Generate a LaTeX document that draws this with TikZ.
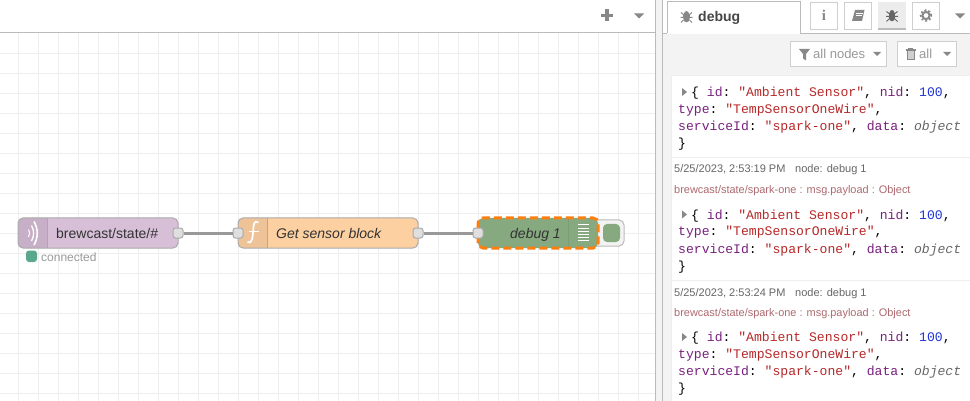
\documentclass[tikz,border=0pt]{standalone}
\usepackage{fontspec}
\setmainfont{Liberation Sans}
\setmonofont{Liberation Mono}
\newfontfamily\iconserif{Liberation Serif}
\usetikzlibrary{calc}

\definecolor{gridline}{HTML}{EEEEEE}
\definecolor{panelgray}{HTML}{F3F3F3}
\definecolor{borderline}{HTML}{BBBBBB}
\definecolor{nodeline}{HTML}{AAAAAA}
\definecolor{wiregray}{HTML}{999999}
\definecolor{mqttfill}{HTML}{D8BFD8}
\definecolor{mqttdark}{HTML}{C7B0C7}
\definecolor{funcfill}{HTML}{FDD0A2}
\definecolor{funcdark}{HTML}{EFC398}
\definecolor{debugfill}{HTML}{87A980}
\definecolor{debugdark}{HTML}{7D9D77}
\definecolor{selorange}{HTML}{FF7F0E}
\definecolor{okgreen}{HTML}{5AA88C}
\definecolor{textdark}{HTML}{333333}
\definecolor{textgray}{HTML}{999999}
\definecolor{metagray}{HTML}{666666}
\definecolor{topicred}{HTML}{AD6A6F}
\definecolor{keypurple}{HTML}{79207F}
\definecolor{strred}{HTML}{B72828}
\definecolor{numblue}{HTML}{2033D6}
\definecolor{icongray}{HTML}{888888}

\tikzset{
	flowbox/.style = {draw = nodeline, line width = 1pt, rounded corners = 5pt},
	port/.style = {draw = nodeline, fill = gray!25, line width = 1pt, rounded corners = 2.5pt, minimum size = 10pt, inner sep = 0pt},
	wire/.style = {draw = wiregray, line width = 3pt},
	tabbtn/.style = {draw = borderline!70, fill = white, line width = 1pt},
	nodetext/.style = {font = \fontsize{14}{16}\selectfont, text = textdark, anchor = base west, inner sep = 0pt},
	uitext/.style = {font = \fontsize{13}{15}\selectfont, text = textgray, anchor = base west, inner sep = 0pt},
	metatext/.style = {font = \fontsize{11}{13}\selectfont, text = metagray, anchor = base west, inner sep = 0pt},
	topictext/.style = {font = \fontsize{10.95}{13}\selectfont, text = topicred, anchor = base west, inner sep = 0pt},
	msgtext/.style = {font = \ttfamily\fontsize{13.1}{17}\selectfont, anchor = base west, inner sep = 0pt},
	caret/.style = {fill = icongray, draw = none}
}

\newcommand{\msgblock}[1]{%
	\fill [icongray] (682,#1-4) -- (687,#1) -- (682,#1+4) -- cycle;
	\node [msgtext] (open#1) at (691,#1+4.5) {\{ \textcolor{keypurple}{id}: \textcolor{strred}{"Ambient Sensor"}, \textcolor{keypurple}{nid}: \textcolor{numblue}{100},};
	\node [msgtext] (type#1) at (678,#1+21.5) {\textcolor{keypurple}{type}: \textcolor{strred}{"TempSensorOneWire"},};
	\node [msgtext] (serv#1) at (678,#1+38.5) {\textcolor{keypurple}{serviceId}: \textcolor{strred}{"spark-one"}, \textcolor{keypurple}{data}: \textcolor{metagray}{\itshape object}};
	\node [msgtext] (close#1) at (678,#1+55.5) {\}};
}

\newcommand{\bugicon}[3]{%
	\fill [#3] (#1-3.2,#2-2) rectangle (#1+3.2,#2+2);
	\fill [#3] (#1,#2+2) ellipse (3.2pt and 3.8pt);
	\fill [#3] (#1,#2-3) circle (2.4pt);
	\draw [#3, line width = 1pt] (#1-3,#2-2) -- (#1-5.5,#2-4) (#1+3,#2-2) -- (#1+5.5,#2-4) (#1-3,#2+1) -- (#1-6,#2+1) (#1+3,#2+1) -- (#1+6,#2+1) (#1-3,#2+3.5) -- (#1-5.5,#2+6) (#1+3,#2+3.5) -- (#1+5.5,#2+6);
}

\begin{document}
\begin{tikzpicture}[x = 1pt, y = -1pt]
	\useasboundingbox (0,0) rectangle (970,401);
	\fill [white] (0,0) rectangle (970,401);

	% workspace grid
	\foreach \x in {18,38,...,638}
		\draw [gridline] (\x,33) to (\x,401);
	\foreach \y in {53,73,...,393}
		\draw [gridline] (0,\y) to (655,\y);
	\draw [borderline, line width = 1pt] (0,33) to (655,33);

	\fill [icongray] (605,9.5) rectangle (608.5,21.5);
	\fill [icongray] (600.8,13.8) rectangle (612.8,17.2);
	\fill [caret] (634,13.5) -- (644,13.5) -- (639,18.5) -- cycle;

	% mqtt in
	\fill [mqttfill, rounded corners = 5pt] (18,218) rectangle (178,248);
	\begin{scope}
		\clip [rounded corners = 5pt] (18,218) rectangle (178,248);
		\fill [mqttdark] (18,218) rectangle (47.5,248);
	\end{scope}
	\draw [nodeline] (47.5,218) to (47.5,248);
	\draw [flowbox] (18,218) rectangle (178,248);
	\draw [white, line width = 1pt] (28.5,229.5) to [bend left = 30] (28.5,237);
	\draw [white, line width = 1.3pt] (31.5,225.5) to [bend left = 28] (31.5,241);
	\draw [white, line width = 1.6pt] (34,221.5) to [bend left = 28] (34,245);
	\node [nodetext] (brewcast) at (56,238) {brewcast/state/\#};
	\fill [okgreen, rounded corners = 3pt] (26,250.5) rectangle (37,262);
	\node [font = \fontsize{12}{14}\selectfont, text = textgray, anchor = base west, inner sep = 0pt] (connected) at (41,261) {connected};

	% function
	\fill [funcfill, rounded corners = 5pt] (238,218) rectangle (418,248);
	\begin{scope}
		\clip [rounded corners = 5pt] (238,218) rectangle (418,248);
		\fill [funcdark] (238,218) rectangle (267.5,248);
	\end{scope}
	\draw [nodeline] (267.5,218) to (267.5,248);
	\draw [flowbox] (238,218) rectangle (418,248);
	\draw [white, line width = 1.7pt] (258.5,222.5) .. controls (254,220) and (253.7,224) .. (253.2,230) .. controls (252.7,238) and (252,244.5) .. (247.5,242);
	\draw [white, line width = 1.3pt] (248.5,231.5) to (258.5,231.5);
	\node [nodetext, font = \itshape\fontsize{14}{16}\selectfont] (getblock) at (276,238) {Get sensor block};

	% debug
	\draw [draw = borderline, fill = panelgray, line width = 1pt, rounded corners = 5pt] (590,220) rectangle (624,246);
	\fill [debugfill, rounded corners = 4pt] (603,224) rectangle (620,242);
	\draw [draw = selorange, fill = debugfill, line width = 3pt, dash pattern = on 8pt off 4pt, rounded corners = 5pt] (478,218) rectangle (598,248);
	\draw [debugdark, line width = 1pt] (568.5,219.5) to (568.5,246.5);
	\foreach \y in {225,228,...,240}
		\draw [white, line width = 1pt] (578,\y) to (589,\y);
	\node [nodetext, font = \itshape\fontsize{14}{16}\selectfont, anchor = base east] (debugname) at (561,238) {debug 1};

	% ports and wires
	\node [port] (mqttout) at (178,233) {};
	\node [port] (funcin) at (238,233) {};
	\node [port] (funcout) at (418,233) {};
	\node [port] (debugin) at (478,233) {};
	\draw [wire] (mqttout) to (funcin);
	\draw [wire] (funcout) to (debugin);

	% divider and side panel
	\fill [panelgray] (655,0) rectangle (970,401);
	\draw [borderline] (655.5,0) to (655.5,401);
	\draw [borderline] (662.5,0) to (662.5,401);
	\fill [white] (663,0) rectangle (970,33);
	\draw [borderline] (663,33) to (667,33);
	\draw [borderline] (800,33) to (970,33);
	\fill [white] (667,1.5) rectangle (800,34);
	\draw [borderline] (667,33.5) to (667,1.5) to (800,1.5) to (800,33.5);
	\bugicon{686.5}{16.5}{icongray}
	\node [font = \bfseries\fontsize{14}{16}\selectfont, text = textdark!90, anchor = base west, inner sep = 0pt] (debugtab) at (698,22) {debug};

	\draw [tabbtn] (810.5,2.5) rectangle (837.5,29.5);
	\draw [tabbtn] (844.5,2.5) rectangle (871.5,29.5);
	\draw [tabbtn, fill = gray!15, draw = gray!15] (878.5,2.5) rectangle (905.5,29.5);
	\draw [borderline, line width = 2pt] (878,29) to (906,29);
	\draw [tabbtn] (912.5,2.5) rectangle (939.5,29.5);
	\node [font = \iconserif\bfseries\fontsize{15}{15}\selectfont, text = icongray, anchor = base, inner sep = 0pt] (infoicon) at (824,20.5) {i};
	\fill [icongray] (855,10) -- (864.5,10) -- (862,21) -- (852,21) -- cycle;
	\draw [white, line width = 0.7pt] (856,13) -- (862.5,13) (855.5,15.5) -- (862,15.5);
	\bugicon{892}{15.5}{metagray}
	\draw [icongray, line width = 2pt] (926,15.5) circle (3.6pt);
	\draw [icongray, line width = 1.6pt, dash pattern = on 2pt off 2pt] (926,15.5) circle (5.4pt);
	\fill [caret] (955,13.5) -- (965,13.5) -- (960,18.5) -- cycle;

	% filter bar
	\draw [tabbtn] (790.5,41.5) rectangle (886.5,66.5);
	\fill [icongray] (799,49) -- (810,49) -- (806,54) -- (806,60.5) -- (803,58.5) -- (803,54) -- cycle;
	\node [uitext] (allnodes) at (813,59) {all nodes};
	\fill [caret] (873,52) -- (881,52) -- (877,56) -- cycle;
	\draw [tabbtn] (897.5,41.5) rectangle (956.5,66.5);
	\draw [icongray, fill = icongray!40, line width = 1pt] (907,51) rectangle (914,60);
	\draw [icongray, line width = 1.2pt] (905.5,50) -- (915.5,50);
	\draw [icongray, line width = 0.8pt] (908.5,49.5) -- (908.5,48.5) -- (912.5,48.5) -- (912.5,49.5);
	\node [uitext] (allbtn) at (919,59) {all};
	\fill [caret] (943,52) -- (951,52) -- (947,56) -- cycle;

	% messages
	\fill [white] (672,75) rectangle (970,401);
	\draw [gridline] (672,75.5) to (970,75.5);
	\draw [gridline] (671.5,75) to (671.5,401);
	\msgblock{92}
	\draw [gridline] (672,157.5) to (970,157.5);
	\node [metatext] (time1) at (674,173) {5/25/2023, 2:53:19 PM};
	\node [metatext] (name1) at (795,173) {node: debug 1};
	\node [topictext] (topic1) at (674,193.5) {brewcast/state/spark-one : msg.payload : Object};
	\msgblock{214.5}
	\draw [gridline] (672,280.5) to (970,280.5);
	\node [metatext] (time2) at (674,296) {5/25/2023, 2:53:24 PM};
	\node [metatext] (name2) at (795,296) {node: debug 1};
	\node [topictext] (topic2) at (674,316.5) {brewcast/state/spark-one : msg.payload : Object};
	\msgblock{337}
\end{tikzpicture}
\end{document}
